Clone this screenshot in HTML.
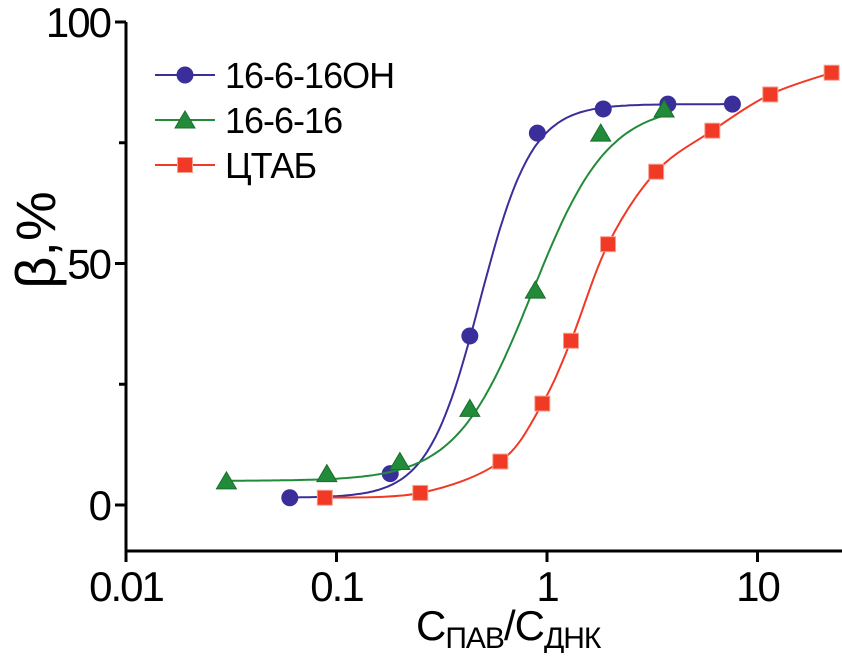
<!DOCTYPE html>
<html><head><meta charset="utf-8"><style>
body{margin:0;background:#fff}
svg text{font-family:"Liberation Sans",sans-serif;fill:#000}
</style></head><body>
<svg id="chart" width="842" height="653" viewBox="0 0 842 653">
<g id="axes"></g>
<g id="series"></g>
<g id="legend"></g>
<text x="55" y="240" font-size="56" transform="rotate(-90 55 240)" text-anchor="middle">β,%</text>
<text x="416" y="640" font-size="42" letter-spacing="-1">C<tspan font-size="30" dy="8">ПАВ</tspan><tspan dy="-8">/C</tspan><tspan font-size="30" dy="8">ДНК</tspan></text>
</svg>
<script>
const xTicks=[0.01,0.1,1,10];
const xTickLabels=["0.01","0.1","1","10"];
const yTicks=[0,50,100];
const yMinor=[25,75];
const names=["16-6-16OH","16-6-16","ЦТАБ"];
const colors=["#3a2f9a","#228b3a","#f03a25"];
const x1=[0.06,0.18,0.43,0.9,1.85,3.75,7.6];
const y1=[1.5,6.5,35,77,82,83,83];
const x2=[0.03,0.09,0.2,0.43,0.88,1.8,3.6];
const y2=[5,6.5,9,20,44.5,77,82];
const x3=[0.088,0.25,0.6,0.95,1.3,1.95,3.3,6.1,11.5,22.5];
const y3=[1.5,2.5,9,21,34,54,69,77.5,85,89.5];
const fitA1=[1.5,5], fitA2=[83,83], fitX0=[0.48,0.85], fitP=[3.5,2.4];
const X=v=>126+(Math.log10(v)+2)*210.5;
const Y=v=>505-v*4.83;
const NS="http://www.w3.org/2000/svg";
function mk(t,a,p){const e=document.createElementNS(NS,t);for(const k in a)e.setAttribute(k,a[k]);p.appendChild(e);return e;}
const ax=document.getElementById('axes');
let e=mk('path',{d:"M126 22V551H842",stroke:"#000","stroke-width":3,fill:"none"},ax);


xTicks.forEach((t,i)=>{
 let l=mk('line',{x1:X(t),x2:X(t),y1:551,y2:562,stroke:"#000","stroke-width":3},ax);
 
 
 let tx=mk('text',{x:X(t),y:601,"font-size":42,"letter-spacing":"-2","text-anchor":"middle"},ax);tx.textContent=xTickLabels[i];
 
 
});
yTicks.forEach(t=>{
 let l=mk('line',{x1:115,x2:126,y1:Y(t),y2:Y(t),stroke:"#000","stroke-width":3},ax);
 
 
 let tx=mk('text',{x:110,y:Y(t)+15,"font-size":42,"letter-spacing":"-2","text-anchor":"end"},ax);tx.textContent=String(t);
 
 
});
yMinor.forEach(t=>{
 let l=mk('line',{x1:119,x2:126,y1:Y(t),y2:Y(t),stroke:"#000","stroke-width":3},ax);
 
 
});
function marker(k,cx,cy,p){
 let m;
 if(k===0)m=mk('circle',{cx:cx,cy:cy,r:8.5,fill:colors[0]},p);
 else if(k===1)m=mk('path',{d:`M${cx} ${cy-9}L${cx+10} ${cy+8}L${cx-10} ${cy+8}Z`,fill:colors[1],stroke:"#1a6e2c","stroke-width":1},p);
 else m=mk('rect',{x:cx-7.5,y:cy-7.5,width:15,height:15,fill:colors[2],stroke:"#f6a090","stroke-width":1},p);
 return m;
}
function spline(xa,ya){
 const P=xa.map((v,i)=>[X(v),Y(ya[i])]);
 let d="M"+P[0][0]+" "+P[0][1];
 for(let i=0;i<P.length-1;i++){
  const p0=P[Math.max(0,i-1)],p1=P[i],p2=P[i+1],p3=P[Math.min(P.length-1,i+2)];
  const c1=[p1[0]+(p2[0]-p0[0])/6,p1[1]+(p2[1]-p0[1])/6];
  const c2=[p2[0]-(p3[0]-p1[0])/6,p2[1]-(p3[1]-p1[1])/6];
  d+=`C${c1[0].toFixed(1)} ${c1[1].toFixed(1)} ${c2[0].toFixed(1)} ${c2[1].toFixed(1)} ${p2[0].toFixed(1)} ${p2[1].toFixed(1)}`;
 }
 return d;
}
const xs=[x1,x2,x3], ys=[y1,y2,y3];
const sg=document.getElementById('series');
for(let k=0;k<3;k++){
 let d="";
 if(k<2){
 const a=Math.log10(xs[k][0]),b=Math.log10(xs[k][xs[k].length-1]);
 for(let i=0;i<=200;i++){const lx=a+(b-a)*i/200,x=Math.pow(10,lx);
  const y=fitA2[k]+(fitA1[k]-fitA2[k])/(1+Math.pow(x/fitX0[k],fitP[k]));
  d+=(i?"L":"M")+X(x).toFixed(1)+" "+Y(y).toFixed(1);}
 } else d=spline(xs[k],ys[k]);
 let c=mk('path',{d:d,stroke:colors[k],"stroke-width":2,fill:"none"},sg);
 
 
 xs[k].forEach((v,i)=>{
  let m=marker(k,X(v),Y(ys[k][i]),sg);
  
  
 });
}
const lg=document.getElementById('legend');
names.forEach((n,k)=>{
 const y=75+k*45;
 let l=mk('line',{x1:155,x2:215,y1:y,y2:y,stroke:colors[k],"stroke-width":2},lg);
 
 
 let m=marker(k,185,y,lg);
 
 
 let t=mk('text',{x:225,y:y+13,"font-size":36,"letter-spacing":"-1"},lg);t.textContent=n;
 
 
});
</script>
</body></html>
